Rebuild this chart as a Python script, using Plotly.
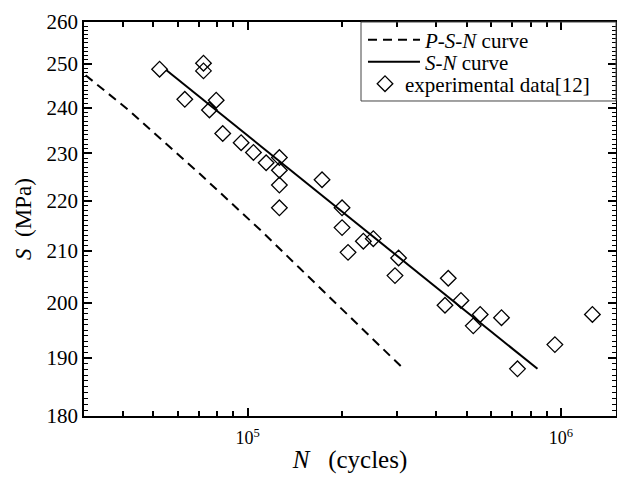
import math
import plotly.graph_objects as go

# ---- data ----
exp_N = [52300, 72230, 72230, 62950, 79300, 75450, 83200, 95260, 104300, 114500,
         126200, 126200, 126200, 126200, 172700, 200100, 200100, 209100, 234000, 251800,
         295300, 303200, 426500, 436900, 479700, 525100, 552600, 646300, 726900, 956900,
         1261000]
exp_S = [248.8, 250.2, 248.4, 241.9, 241.7, 239.5, 234.3, 232.3, 230.2, 228.0,
         229.1, 226.4, 223.3, 218.6, 224.4, 218.6, 214.6, 209.7, 211.9, 212.4,
         205.2, 208.6, 199.6, 204.7, 200.5, 195.8, 197.9, 197.3, 188.1, 192.4,
         197.9]

sn_N = [54900, 842000]
sn_S = [248.6, 188.1]

psn_N = [30350, 41940, 70150, 111600, 146100, 314600]
psn_S = [247.4, 239.3, 225.7, 213.7, 206.7, 188.1]

x_major = [1e5, 1e6]
x_major_text = ["10<sup>5</sup>", "10<sup>6</sup>"]
x_minor = [4e4, 5e4, 6e4, 7e4, 8e4, 9e4, 2e5, 3e5, 4e5, 5e5, 6e5, 7e5, 8e5, 9e5]
y_major = [180, 190, 200, 210, 220, 230, 240, 250, 260]
y_minor = [v for v in range(181, 260) if v % 10 != 0]

x_range = [3e4, 1.5e6]
y_range = [180, 260]

FONT = "Liberation Serif"

fig = go.Figure()
fig.add_trace(go.Scatter(x=psn_N, y=psn_S, mode="lines", legend="legend",
                         line=dict(color="black", width=2, dash="9px,6px"),
                         name="<i>P</i>-<i>S</i>-<i>N</i> curve"))
fig.add_trace(go.Scatter(x=sn_N, y=sn_S, mode="lines", legend="legend2",
                         line=dict(color="black", width=2),
                         name="<i>S</i>-<i>N</i> curve"))
fig.add_trace(go.Scatter(x=exp_N, y=exp_S, mode="markers", legend="legend3",
                         marker=dict(symbol="diamond-open", size=12, color="black",
                                     line=dict(width=1.3, color="black")),
                         name="experimental data[12]"))

lr = [math.log10(v) for v in x_range]
yr = [math.log10(v) for v in y_range]

leg_common = dict(xanchor="left", yanchor="middle", bgcolor="rgba(0,0,0,0)",
                  borderwidth=0, font=dict(family=FONT, size=21, color="black"))

fig.update_layout(
    width=617, height=478,
    margin=dict(l=84, r=1, t=22, b=62, autoexpand=False),
    paper_bgcolor="white", plot_bgcolor="white",
    font=dict(family=FONT, size=21, color="black"),
    showlegend=True,
    legend=dict(x=0.5244, y=0.9543, itemwidth=52, **leg_common),
    legend2=dict(x=0.5244, y=0.8985, itemwidth=52, **leg_common),
    legend3=dict(x=0.5282, y=0.8426, **leg_common),
    shapes=[dict(type="rect", xref="paper", yref="paper", x0=0.5207, x1=1.0,
                 y0=0.7995, y1=1.0, line=dict(color="#444", width=1),
                 fillcolor="rgba(0,0,0,0)", layer="above")],
    xaxis=dict(type="log", range=lr, tickvals=x_major, ticktext=x_major_text,
               ticks="inside", ticklen=8, tickwidth=1.5, tickcolor="black",
               showline=True, linecolor="black", linewidth=1.5, mirror="ticks",
               showgrid=False, zeroline=False, automargin=False,
               minor=dict(tickvals=x_minor, ticks="inside", ticklen=5, tickwidth=1.5,
                          tickcolor="black", showgrid=False),
               tickfont=dict(family=FONT, size=18), ticklabelstandoff=5,
               title=dict(text="<i>N</i>\u00a0\u00a0\u00a0(cycles)", font=dict(family=FONT, size=25),
                          standoff=3)),
    yaxis=dict(type="log", range=yr, tickvals=y_major, ticktext=[str(v) for v in y_major],
               ticks="inside", ticklen=8, tickwidth=1.5, tickcolor="black",
               showline=True, linecolor="black", linewidth=1.5, mirror="ticks",
               showgrid=False, zeroline=False, automargin=False,
               minor=dict(tickvals=y_minor, ticks="inside", ticklen=4, tickwidth=1.2,
                          tickcolor="black", showgrid=False),
               tickfont=dict(family=FONT, size=21), ticklabelstandoff=0,
               title=dict(text="<i>S</i>\u00a0\u00a0(MPa)", font=dict(family=FONT, size=23),
                          standoff=8)),
)

fig.write_html("out.html", post_script="document.body.style.margin='0';",
               config={"displayModeBar": False})
